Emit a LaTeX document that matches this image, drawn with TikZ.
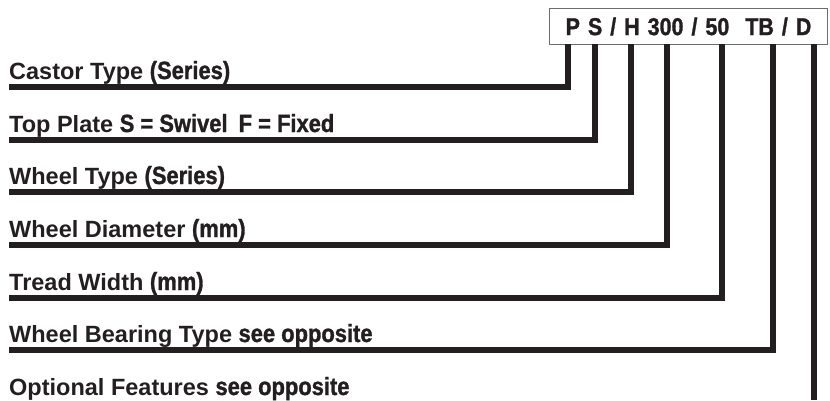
\documentclass[tikz,border=0pt]{standalone}
\usepackage{fontspec}
\setmainfont{Liberation Sans}
\newfontfamily\condfont[Scale=1.06, FakeStretch=0.88, FakeBold=1.2, UprightFont={Liberation Sans Bold}, BoldFont={Liberation Sans Bold}]{Liberation Sans}
\usepackage{tikz}
\usetikzlibrary{positioning}
\definecolor{inkblack}{HTML}{231F20}
\newcommand{\cnd}[1]{{\condfont #1}}
\newcommand{\widespace}{\spaceskip=8pt\relax}

\begin{document}
\begin{tikzpicture}[
  x=1pt, y=-1pt,
  every node/.style={font=\fontsize{23.5}{28}\selectfont\bfseries, text=inkblack, inner sep=0pt},
  rowtext/.style={anchor=base west},
  leader/.style={draw=inkblack, line width=5.5pt},
  codebox/.style={rectangle, draw=gray!85!black, line width=0.9pt, minimum width=278pt, minimum height=36pt,
    font=\fontsize{23}{28}\selectfont\condfont},
]
  \useasboundingbox (0,0) rectangle (830,400);

  \node[codebox] (code) at (688.5,26.5) {\widespace P S / H 300 / 50 \hspace{8pt}TB / D};

  % drop points under the code letters
  \coordinate (cP)  at (568,44);
  \coordinate (cS)  at (595,44);
  \coordinate (cH)  at (631,44);
  \coordinate (cd)  at (667,44);
  \coordinate (cw)  at (722,44);
  \coordinate (cb)  at (773,44);
  \coordinate (cD)  at (814,44);
  \coordinate (end) at (814,400);

  \node[rowtext] (castor)  at (9,79)  {Castor Type \cnd{(Series)}};
  \node[rowtext] (plate)   at (9,132) {Top Plate \cnd{S = Swivel \hspace{5pt}F = Fixed}};
  \node[rowtext] (wheel)   at (9,184) {Wheel Type \cnd{(Series)}};
  \node[rowtext] (diam)    at (9,237) {Wheel Diameter \cnd{(mm)}};
  \node[rowtext] (tread)   at (9,290) {Tread Width \cnd{(mm)}};
  \node[rowtext] (bearing) at (9,342) {Wheel Bearing Type \cnd{see opposite}};
  \node[rowtext] (option)  at (9,395) {Optional Features \cnd{see opposite}};

  \draw[leader] ([yshift=-8pt]castor.base west)  -| (cP);
  \draw[leader] ([yshift=-8pt]plate.base west)   -| (cS);
  \draw[leader] ([yshift=-8pt]wheel.base west)   -| (cH);
  \draw[leader] ([yshift=-8pt]diam.base west)    -| (cd);
  \draw[leader] ([yshift=-8pt]tread.base west)   -| (cw);
  \draw[leader] ([yshift=-8pt]bearing.base west) -| (cb);
  \draw[leader] (cD) -- (end);
\end{tikzpicture}
\end{document}
